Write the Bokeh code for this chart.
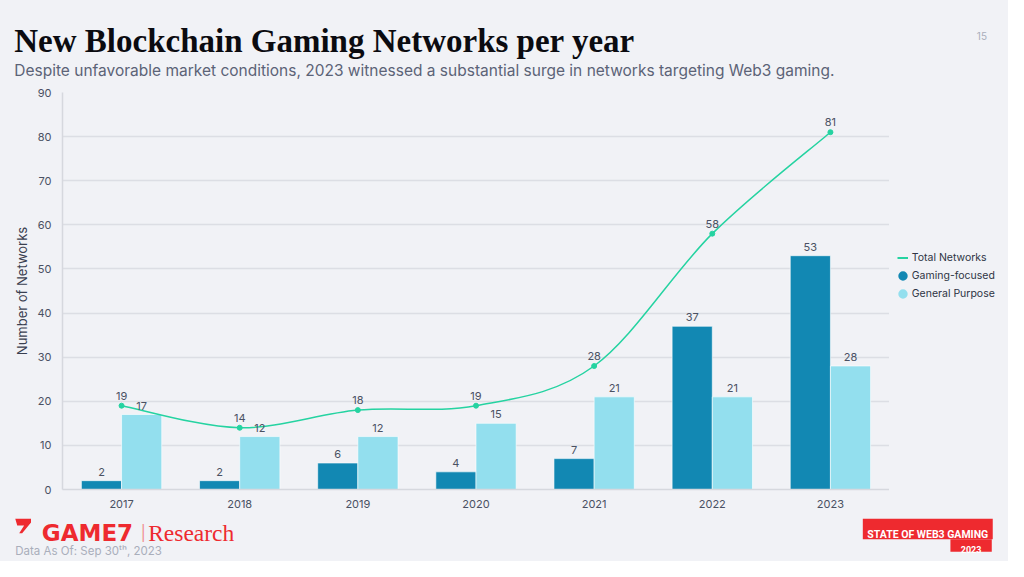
import numpy as np
from bokeh.plotting import figure
from bokeh.layouts import column, row
from bokeh.models import (ColumnDataSource, Range1d, FixedTicker, Label, BoxAnnotation,
                          PolyAnnotation, Legend, LegendItem)
from bokeh.transform import dodge
from bokeh.core.properties import value
from bokeh.embed import file_html
from bokeh.resources import INLINE

# ---------------- data ----------------
years = ["2017", "2018", "2019", "2020", "2021", "2022", "2023"]
gaming_focused = [2, 2, 6, 4, 7, 37, 53]
general_purpose = [17, 12, 12, 15, 21, 21, 28]
total_networks = [19, 14, 18, 19, 28, 58, 81]
y_ticks = [0, 10, 20, 30, 40, 50, 60, 70, 80, 90]
series_names = ["Total Networks", "Gaming-focused", "General Purpose"]

# ---------------- style ----------------
BG = "#f1f2f6"
DARK = "#1288b3"
LIGHT = "#93dfee"
GREEN = "#25d3a1"
TXT = "#4a5163"
RED = "#ee2a2f"
FONT = "Inter"

idx = list(range(len(years)))
src = ColumnDataSource(dict(idx=idx, year=years, gaming=gaming_focused,
                            general=general_purpose, total=total_networks,
                            gaming_t=[str(v) for v in gaming_focused],
                            general_t=[str(v) for v in general_purpose],
                            total_t=[str(v) for v in total_networks]))

# smooth (Catmull-Rom) bezier segments through the total series
xs = np.array(idx, dtype=float)
ys = np.array(total_networks, dtype=float)
n = len(xs)
xp = np.concatenate([[xs[0]], xs, [xs[-1]]])
yp = np.concatenate([[ys[0]], ys, [ys[-1]]])
k = 1.0 / 6.0
seg = dict(x0=[], y0=[], x1=[], y1=[], cx0=[], cy0=[], cx1=[], cy1=[])
for i in range(n - 1):
    p0x, p0y = xp[i], yp[i]
    p1x, p1y = xp[i + 1], yp[i + 1]
    p2x, p2y = xp[i + 2], yp[i + 2]
    p3x, p3y = xp[i + 3], yp[i + 3]
    seg["x0"].append(p1x); seg["y0"].append(p1y)
    seg["x1"].append(p2x); seg["y1"].append(p2y)
    seg["cx0"].append(p1x + (p2x - p0x) * k); seg["cy0"].append(p1y + (p2y - p0y) * k)
    seg["cx1"].append(p2x - (p3x - p1x) * k); seg["cy1"].append(p2y - (p3y - p1y) * k)
seg_src = ColumnDataSource(seg)

# ---------------- geometry (reference px -> canvas px) ----------------
W, H = 1008, 561
SX, SY = W / 1024.0, H / 577.0


def cx(px):
    return px * SX


def cy(py):
    return py * SY


HEAD_H = 86
FRAME_L, FRAME_R = round(cx(63)), round(cx(903))
FRAME_T, FRAME_B = round(cy(95)), round(cy(503))
FOOT_T = 514
MAIN_H = FOOT_T - HEAD_H


def blank(width, height):
    f = figure(width=width, height=height, output_backend="svg", toolbar_location=None,
               x_range=Range1d(0, 1), y_range=Range1d(0, 1),
               x_axis_type=None, y_axis_type=None,
               min_border=0, min_border_left=0, min_border_right=0,
               min_border_top=0, min_border_bottom=0)
    f.background_fill_color = BG
    f.border_fill_color = BG
    f.outline_line_color = None
    f.xgrid.visible = False
    f.ygrid.visible = False
    return f


def lab(fig, x, y, text, **kw):
    base = dict(x_units="screen", y_units="screen", text_baseline="alphabetic",
                text_align="left")
    base.update(kw)
    fig.add_layout(Label(x=x, y=y, text=text, **base))


# ---------------- header ----------------
header = blank(W, HEAD_H)


def hy(py):
    return HEAD_H - cy(py)


lab(header, cx(14), hy(42), "New Blockchain Gaming Networks per year",
    text_font="Liberation Serif", text_font_style="bold", text_font_size="33px",
    text_color="#0b0b10")
lab(header, cx(14), hy(72),
    "Despite unfavorable market conditions, 2023 witnessed a substantial surge in networks targeting Web3 gaming.",
    text_font=FONT, text_font_size="15.5px", text_color="#5c6377")
lab(header, cx(997), hy(37), "15", text_font=FONT, text_font_size="10px",
    text_color="#a9aebb", text_align="center")

# ---------------- main chart ----------------
p = figure(width=FRAME_R, height=MAIN_H, output_backend="svg", toolbar_location=None,
           x_range=Range1d(-0.5, len(years) - 0.5), y_range=Range1d(0, 90),
           min_border_left=FRAME_L, min_border_right=0,
           min_border_top=FRAME_T - HEAD_H, min_border_bottom=FOOT_T - FRAME_B)
p.background_fill_color = BG
p.border_fill_color = BG
p.outline_line_color = None

p.xaxis.ticker = FixedTicker(ticks=idx)
p.xaxis.major_label_overrides = {i: y for i, y in zip(idx, years)}
p.yaxis.ticker = FixedTicker(ticks=y_ticks)
for ax in (p.xaxis, p.yaxis):
    ax.major_tick_line_color = None
    ax.minor_tick_line_color = None
    ax.axis_line_color = "#d6d8de"
    ax.axis_line_width = 1.5
    ax.major_label_text_font = FONT
    ax.major_label_text_font_size = "11px"
    ax.major_label_text_color = TXT
p.xaxis.major_label_standoff = 4
p.yaxis.major_label_standoff = 5
p.yaxis.axis_label = "Number of Networks"
p.yaxis.axis_label_text_font = FONT
p.yaxis.axis_label_text_font_style = "normal"
p.yaxis.axis_label_text_font_size = "13px"
p.yaxis.axis_label_text_color = "#3a4050"
p.yaxis.axis_label_standoff = 4
p.xgrid.grid_line_color = None
p.ygrid.grid_line_color = "#dcdee4"
p.ygrid.grid_line_width = 1.5

p.vbar(x=dodge("idx", -0.17, range=p.x_range), top="gaming", width=0.34, source=src,
       fill_color=DARK, line_color="white", line_alpha=0.6, line_width=1)
p.vbar(x=dodge("idx", 0.17, range=p.x_range), top="general", width=0.34, source=src,
       fill_color=LIGHT, line_color="white", line_alpha=0.6, line_width=1)

p.bezier(x0="x0", y0="y0", x1="x1", y1="y1", cx0="cx0", cy0="cy0", cx1="cx1", cy1="cy1",
         source=seg_src, line_color=GREEN, line_width=1.5)
p.scatter(x="idx", y="total", source=src, size=5, marker="circle",
          fill_color=GREEN, line_color=GREEN)

lab_kw = dict(text_font=value(FONT), text_font_size="11px", text_color=TXT,
              text_align="center", text_baseline="bottom")
p.text(x=dodge("idx", -0.17, range=p.x_range), y="gaming", text="gaming_t", source=src,
       y_offset=-5, **lab_kw)
p.text(x=dodge("idx", 0.17, range=p.x_range), y="general", text="general_t", source=src,
       y_offset=-5, **lab_kw)
p.text(x="idx", y="total", text="total_t", source=src, y_offset=-6, **lab_kw)

# ---------------- legend panel ----------------
# proxies carry the series data but lie outside this panel's 0..1 view
lg = blank(W - FRAME_R, MAIN_H)
r_line = lg.line(x=idx, y=total_networks, line_color=GREEN, line_width=2)
r_dark = lg.scatter(x=idx, y=gaming_focused, marker="circle", size=12,
                    fill_color=DARK, line_color=DARK, line_width=5)
r_light = lg.scatter(x=idx, y=general_purpose, marker="circle", size=12,
                     fill_color=LIGHT, line_color=LIGHT, line_width=5)
legend = Legend(items=[LegendItem(label=series_names[0], renderers=[r_line]),
                       LegendItem(label=series_names[1], renderers=[r_dark]),
                       LegendItem(label=series_names[2], renderers=[r_light])],
                location=(cx(911) - FRAME_R, FOOT_T - cy(334)), orientation="vertical",
                glyph_width=11, glyph_height=11, label_height=11, label_standoff=4,
                spacing=5, padding=0, margin=0,
                label_text_font=FONT, label_text_font_size="10.5px",
                label_text_color="#2e3444",
                border_line_color=None, background_fill_alpha=0)
lg.add_layout(legend, "center")

# ---------------- footer ----------------
FOOT_H = H - FOOT_T
footer = blank(W, FOOT_H)


def fy(py):
    return H - cy(py)


icon_x = [15, 31, 31, 22, 19, 24, 17]
icon_y = [533, 533, 537, 548, 548, 540, 540]
footer.add_layout(PolyAnnotation(xs=[cx(v) for v in icon_x], ys=[fy(v) for v in icon_y],
                                 xs_units="screen", ys_units="screen",
                                 fill_color=RED, fill_alpha=1, line_color=None))
lab(footer, cx(42), fy(548), "GAME7", text_font="DejaVu Sans", text_font_style="bold",
    text_font_size="23px", text_color=RED)
lab(footer, cx(145), fy(547), "|", text_font=FONT, text_font_size="15px",
    text_color="#f08a8d", text_align="center")
lab(footer, cx(150), fy(548), "Research", text_font="Liberation Serif",
    text_font_size="23.5px", text_color=RED)
lab(footer, cx(15), fy(566), "Data As Of: Sep 30ᵗʰ, 2023", text_font=FONT,
    text_font_size="11.5px", text_color="#a9aebb")

footer.add_layout(BoxAnnotation(left=cx(876), right=cx(1008), top=fy(533), bottom=fy(554),
                                left_units="screen", right_units="screen",
                                top_units="screen", bottom_units="screen",
                                fill_color=RED, fill_alpha=1, line_color=None))
footer.add_layout(BoxAnnotation(left=cx(965), right=cx(1007), top=fy(554), bottom=fy(567),
                                left_units="screen", right_units="screen",
                                top_units="screen", bottom_units="screen",
                                fill_color=RED, fill_alpha=1, line_color=None))
lab(footer, cx(942), fy(549), "STATE OF WEB3 GAMING", text_font="Roboto",
    text_font_style="bold", text_font_size="10.5px", text_color="white",
    text_align="center")
lab(footer, cx(986), fy(565), "2023", text_font="Roboto", text_font_style="bold",
    text_font_size="9px", text_color="white", text_align="center")

layout = column(header, row(p, lg, spacing=0), footer, spacing=0)
layout.background = BG

open("out.html", "w").write(file_html(layout, INLINE))
